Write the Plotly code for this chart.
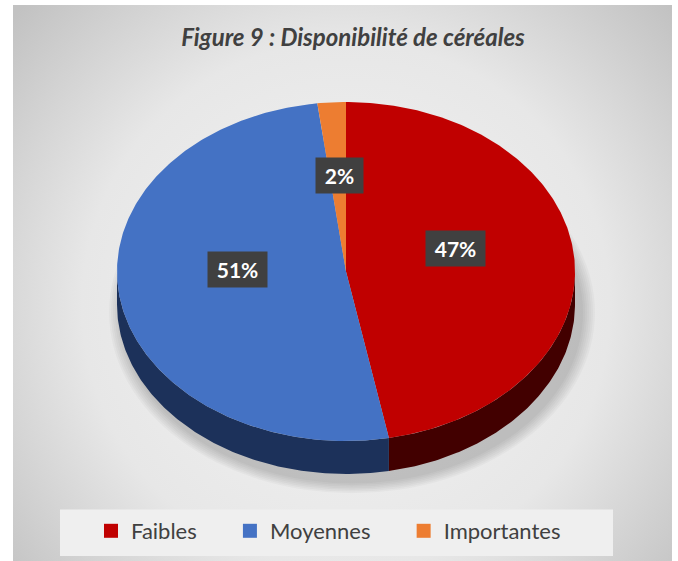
import base64
import math
import plotly.graph_objects as go

# ---------------- data ----------------
categories = ["Faibles", "Moyennes", "Importantes"]
values = [47, 51, 2]
label_texts = ["47%", "51%", "2%"]
title_text = "Figure 9 : Disponibilité de céréales"

# ---------------- style ----------------
top_colors = ["#c00000", "#4472c4", "#ed7d31"]
side_colors = ["#420000", "#1c315a", "#7a3c10"]
W, H = 678, 561
CX, CY, RX, RY, DEPTH = 346, 271.5, 229, 169.5, 33
FONT = "Lato"
PAD = "\u00a0" * 5


def pt(theta_deg, dy=0.0, f=1.0):
    t = math.radians(theta_deg)
    return CX + f * RX * math.sin(t), CY - f * RY * math.cos(t) + dy


def arc(a, b, dy=0.0, n=None):
    n = n or max(4, int(abs(b - a) * 1.5))
    return [pt(a + (b - a) * i / n, dy) for i in range(n + 1)]


total = sum(values)
starts, ends = [], []
acc = 0
for v in values:
    starts.append(acc / total * 360)
    acc += v
    ends.append(acc / total * 360)

fig = go.Figure()

# side walls (front half only)
for i, cat in enumerate(categories):
    lo, hi = max(starts[i], 90), min(ends[i], 270)
    if lo >= hi:
        continue
    top = arc(lo, hi)
    bot = arc(hi, lo, DEPTH)
    pts = top + bot + [top[0]]
    fig.add_trace(go.Scatter(
        x=[p[0] for p in pts], y=[p[1] for p in pts], mode="lines",
        fill="toself", fillcolor=side_colors[i], line=dict(width=0),
        hoverinfo="skip", showlegend=False))

# top faces
for i, cat in enumerate(categories):
    pts = [(CX, CY)] + arc(starts[i], ends[i]) + [(CX, CY)]
    fig.add_trace(go.Scatter(
        x=[p[0] for p in pts], y=[p[1] for p in pts], mode="lines",
        fill="toself", fillcolor=top_colors[i], line=dict(width=0),
        name=cat, hoverinfo="name", showlegend=False))

# legend entries
for i, cat in enumerate(categories):
    fig.add_trace(go.Scatter(
        x=[None], y=[None], mode="markers", name=cat + PAD,
        marker=dict(symbol="square", size=14, color=top_colors[i])))

# data labels
for i, txt in enumerate(label_texts):
    mid = (starts[i] + ends[i]) / 2
    x, y = pt(mid, -15, 0.48)
    fig.add_annotation(
        x=x, y=y, xref="x", yref="y", text=txt, showarrow=False,
        font=dict(family=FONT, size=21, color="white", weight="bold"),
        bgcolor="#404040", width=23 + 12 * len(txt), height=35, borderpad=0)

# background gradient
svg = ('<svg xmlns="http://www.w3.org/2000/svg" width="659" height="556" viewBox="0 0 659 556">'
       '<defs><radialGradient id="g" gradientUnits="userSpaceOnUse" cx="333" cy="300" r="440">'
       '<stop offset="0" stop-color="#f4f4f4"/><stop offset="0.6" stop-color="#e7e7e7"/>'
       '<stop offset="1" stop-color="#c2c2c2"/></radialGradient></defs>'
       '<rect width="659" height="556" fill="url(#g)"/></svg>')
src = "data:image/svg+xml;base64," + base64.b64encode(svg.encode()).decode()

shapes = []
# soft shadow under the pie
for k in range(7):
    e = 2 + k * 2
    shapes.append(dict(type="circle", xref="x", yref="y", layer="below",
                       x0=CX - RX - e + 6, x1=CX + RX + e + 6,
                       y0=CY + DEPTH + 8 - RY - e * 0.8, y1=CY + DEPTH + 8 + RY + e * 0.8,
                       fillcolor="rgba(0,0,0,0.028)", line=dict(width=0)))
# legend panel
shapes.append(dict(type="rect", xref="x", yref="y", layer="below",
                   x0=60, x1=613, y0=509.5, y1=556,
                   fillcolor="#efefef", line=dict(width=0)))

fig.update_layout(
    width=W, height=H, margin=dict(l=0, r=0, t=0, b=0),
    paper_bgcolor="white", plot_bgcolor="rgba(0,0,0,0)",
    xaxis=dict(range=[0, W], visible=False, fixedrange=True),
    yaxis=dict(range=[H, 0], visible=False, fixedrange=True),
    images=[dict(source=src, xref="paper", yref="paper", x=13 / W, y=1 - 5 / H,
                 sizex=659 / W, sizey=556 / H, xanchor="left", yanchor="top",
                 sizing="stretch", layer="below")],
    shapes=shapes,
    title=dict(text=title_text, x=353 / W, xanchor="center", y=1 - 38 / H, yanchor="middle",
               font=dict(family=FONT, size=24, color="#404040", weight="bold", style="italic")),
    legend=dict(orientation="h", x=91 / W, xanchor="left", y=1 - 531 / H, yanchor="middle",
                bgcolor="rgba(0,0,0,0)", font=dict(family=FONT, size=22, color="#404040"),
                itemclick=False, itemdoubleclick=False),
    showlegend=True,
)

fig.write_html("out.html", config={"displayModeBar": False},
               post_script="document.body.style.margin='0';")
